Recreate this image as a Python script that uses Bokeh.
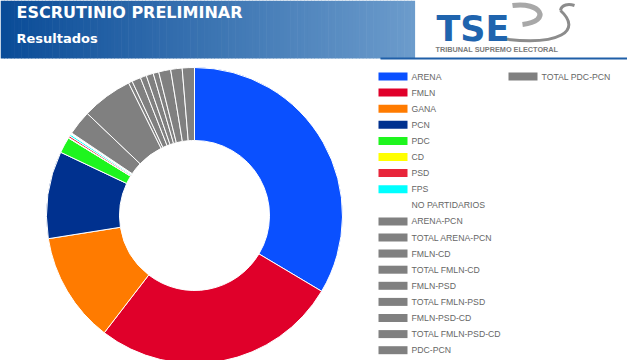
import numpy as np
from bokeh.plotting import figure
from bokeh.models import Range1d, ColumnDataSource
from bokeh.core.properties import value
from bokeh.embed import file_html
from bokeh.resources import INLINE

# ---------------- data ----------------
categories = ["ARENA", "FMLN", "GANA", "PCN", "PDC", "CD", "PSD", "FPS", "NO PARTIDARIOS",
              "ARENA-PCN", "TOTAL ARENA-PCN", "FMLN-CD", "TOTAL FMLN-CD", "FMLN-PSD",
              "TOTAL FMLN-PSD", "FMLN-PSD-CD", "TOTAL FMLN-PSD-CD", "PDC-PCN", "TOTAL PDC-PCN"]
shares = [33.56, 26.89, 12.06, 9.53, 1.75, 0.06, 0.20, 0.20, 0.18,
          2.69, 5.56, 0.42, 0.97, 0.67, 0.78, 0.61, 1.31, 1.25, 1.33]
colors = ["#0a50ff", "#e0002a", "#ff7b00", "#00318f", "#1ef51e", "#ffff00", "#e8253a",
          "#00ffff", "#ffffff"] + ["#808080"] * 10
title_text = "ESCRUTINIO PRELIMINAR"
subtitle_text = "Resultados"
logo_text = "TSE"
logo_caption = "TRIBUNAL SUPREMO ELECTORAL"

W, H = 627, 360


def Y(y):
    return H - y


p = figure(width=W, height=H, x_range=Range1d(0, W), y_range=Range1d(0, H),
           toolbar_location=None, output_backend="svg", min_border=0,
           x_axis_type=None, y_axis_type=None)
p.grid.visible = False
p.outline_line_color = None
p.background_fill_color = "white"
p.border_fill_color = "white"

# ---------------- header band (gradient) ----------------
n = 120
band_right = 414
xs = np.linspace(0, band_right, n + 1)
c0 = np.array([0x0a, 0x4c, 0x98])
c1 = np.array([0x6c, 0x9c, 0xcc])
band_cols = []
for i in range(n):
    t = i / (n - 1)
    c = (c0 * (1 - t) + c1 * t).astype(int)
    band_cols.append("#%02x%02x%02x" % tuple(c))
p.quad(left=xs[:-1], right=xs[1:] + 0.6, bottom=Y(58), top=Y(0), fill_color=band_cols,
       line_color=None)
# blue rule under the logo
p.quad(left=380, right=W, bottom=Y(59), top=Y(57), fill_color="#1f5fa8", line_color=None)

p.text(x=[16], y=[Y(12)], text=[title_text], text_color="white",
       text_font=value("DejaVu Sans"), text_font_style="bold", text_font_size="16px",
       text_baseline="middle", text_align="left")
p.text(x=[16], y=[Y(37.5)], text=[subtitle_text], text_color="white",
       text_font=value("DejaVu Sans"), text_font_style="bold", text_font_size="13px",
       text_baseline="middle", text_align="left")

# ---------------- logo ----------------
p.bezier(x0=[512], y0=[Y(5)], x1=[522], y1=[Y(24)], cx0=[540], cy0=[Y(1)], cx1=[552], cy1=[Y(20)],
         line_color="#a8a8a8", line_width=5)
p.bezier(x0=[500], y0=[Y(38)], x1=[560], y1=[Y(10)], cx0=[560], cy0=[Y(46)], cx1=[582], cy1=[Y(30)],
         line_color="#8c8c8c", line_width=3)
p.bezier(x0=[560], y0=[Y(10)], x1=[574], y1=[Y(5)], cx0=[561], cy0=[Y(4)], cx1=[568], cy1=[Y(3)],
         line_color="#8c8c8c", line_width=3)
p.text(x=[436], y=[Y(28)], text=[logo_text], text_color="#1f64ae",
       text_font=value("DejaVu Sans"), text_font_style="bold", text_font_size="35px",
       text_baseline="middle", text_align="left")
p.text(x=[435], y=[Y(49)], text=[logo_caption], text_color="#7a7a7a",
       text_font=value("Liberation Sans"), text_font_style="bold", text_font_size="7.3px",
       text_baseline="middle", text_align="left")

# ---------------- donut ----------------
vals = np.array(shares, dtype=float)
frac = vals / vals.sum()
cum = np.concatenate([[0], np.cumsum(frac)])
cw_start = cum[:-1] * 2 * np.pi
cw_end = cum[1:] * 2 * np.pi
start = np.pi / 2 - cw_end
end = np.pi / 2 - cw_start
src = ColumnDataSource(dict(start=start, end=end, color=colors, name=categories))
cx, cy = 194, Y(215)
p.annular_wedge(x=cx, y=cy, inner_radius=75, outer_radius=148, start_angle="start",
                end_angle="end", fill_color="color", line_color="white", line_width=1,
                source=src)

# ---------------- legend ----------------
rows_first = 18
pitch = 16.1
lx, ly = [], []
for i in range(len(categories)):
    col = i // rows_first
    row = i % rows_first
    lx.append(378 + col * 130)
    ly.append(76 + row * pitch)
lx = np.array(lx)
ly = np.array(ly)
p.quad(left=lx, right=lx + 29, bottom=Y(ly + 4), top=Y(ly - 4), fill_color=colors,
       line_color=None)
p.text(x=lx + 33, y=Y(ly), text=categories, text_color="#666666",
       text_font=value("Liberation Sans"), text_font_size="8.7px",
       text_baseline="middle", text_align="left")

open("out.html", "w").write(file_html(p, INLINE))
